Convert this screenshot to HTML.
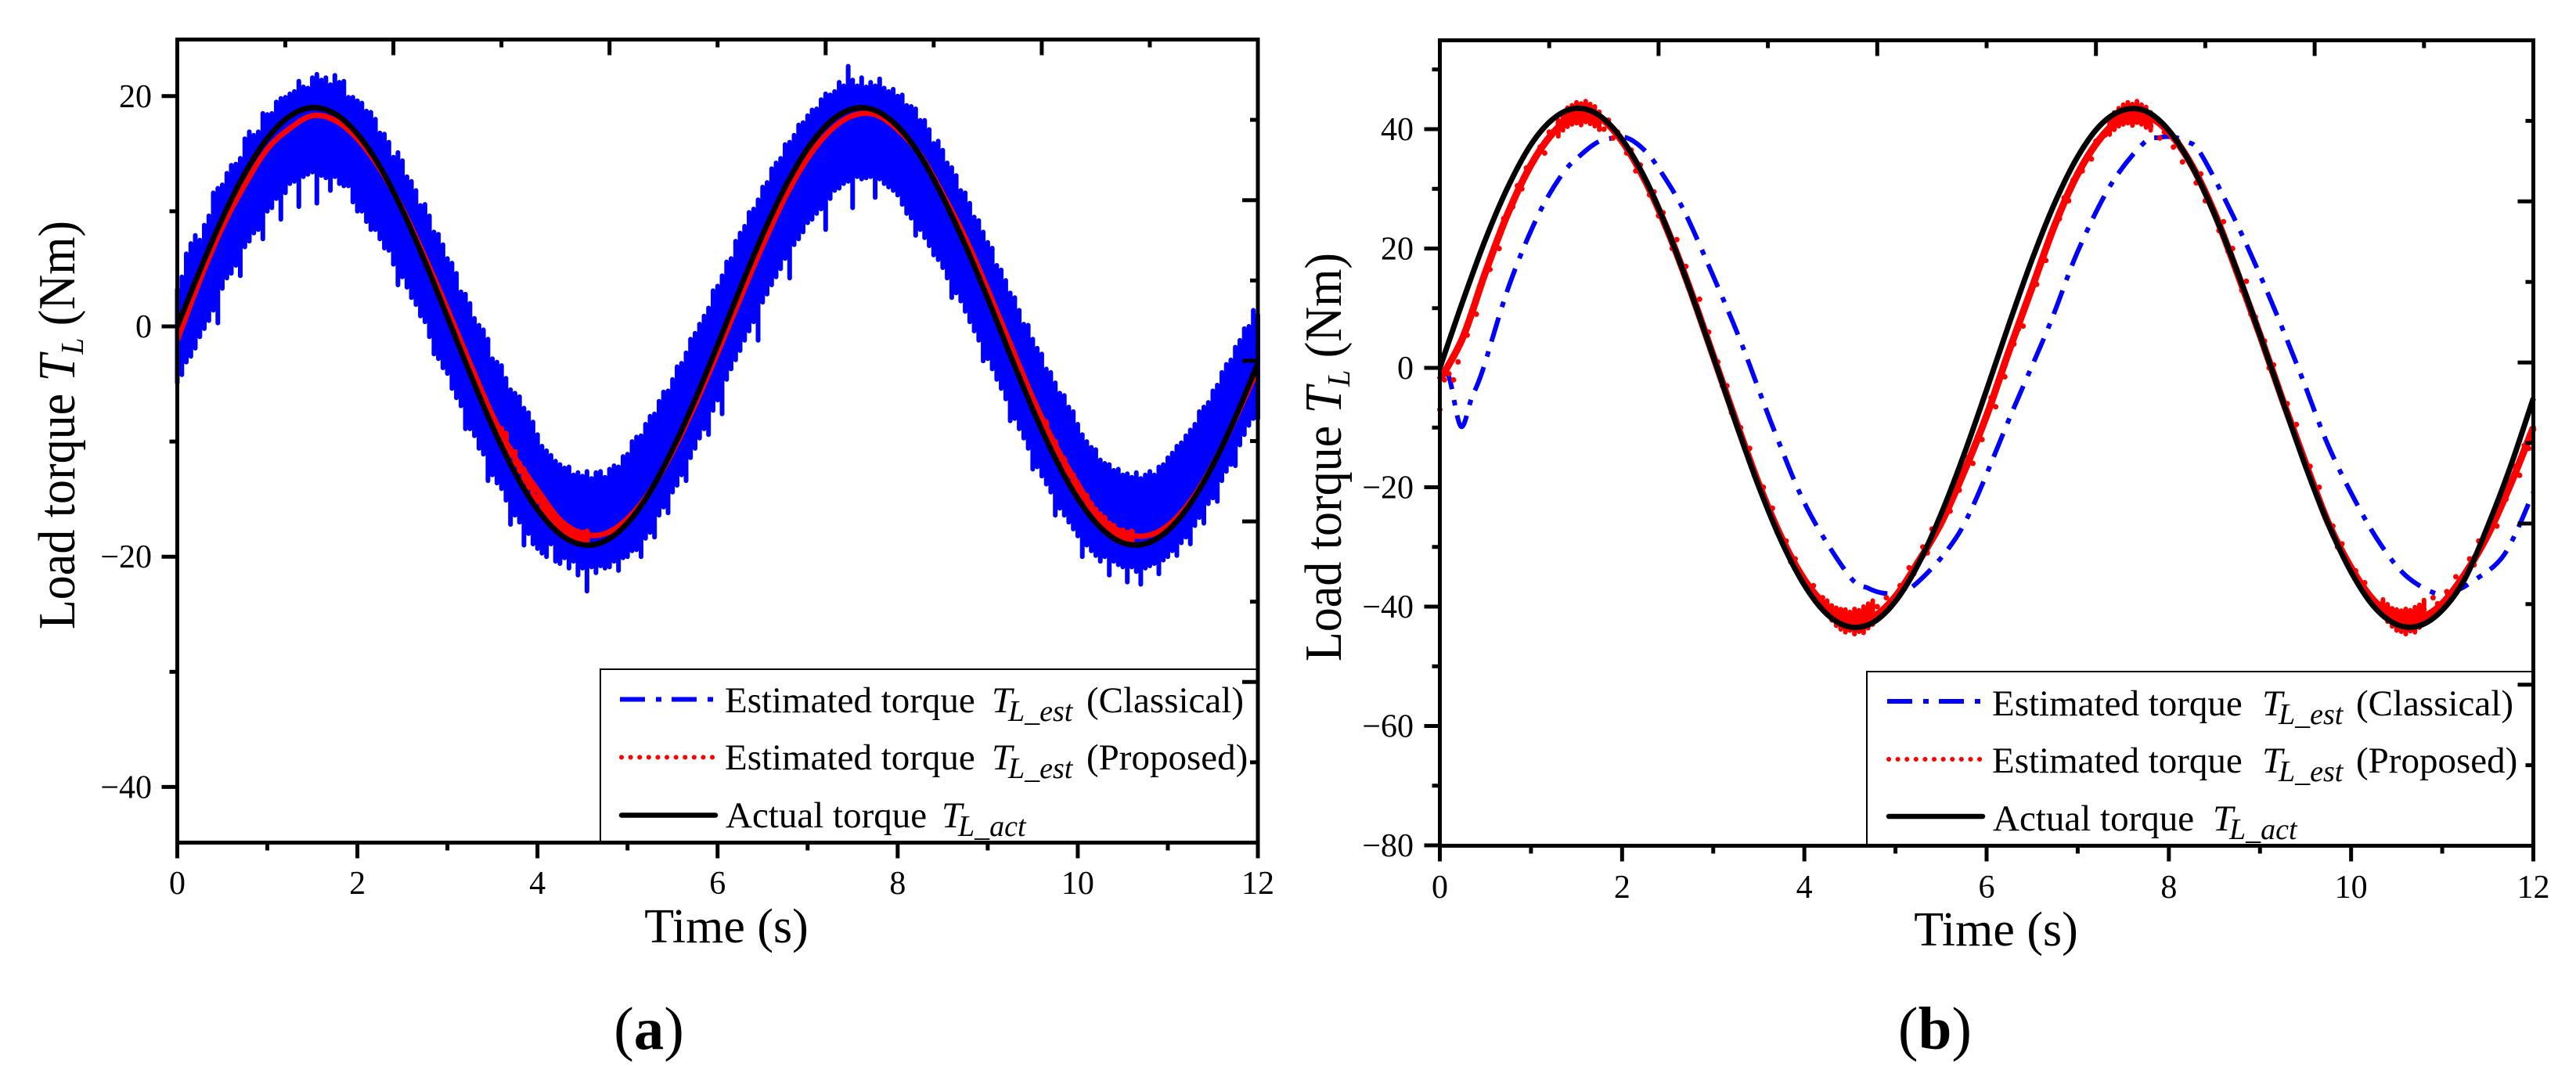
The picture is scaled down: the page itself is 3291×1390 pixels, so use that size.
<!DOCTYPE html>
<html lang="en">
<head>
<meta charset="utf-8">
<title>Load torque estimation comparison</title>
<style>
html,body{margin:0;padding:0;background:#fff}
svg{display:block}
text{font-family:"Liberation Serif","Times New Roman",serif;fill:#000}
</style>
</head>
<body>
<svg id="fig" xmlns="http://www.w3.org/2000/svg" width="3291" height="1390" viewBox="0 0 3291 1390">
  <g id="panelA"></g>
  <g id="panelB"></g>

  <text x="928" y="1204" font-size="62" text-anchor="middle">Time (s)</text>
  <text transform="translate(95 543) rotate(-90) scale(1 1.08)" font-size="62" text-anchor="middle">Load torque <tspan font-style="italic">T</tspan><tspan font-style="italic" font-size="38" dy="10">L</tspan><tspan dy="-10"> (Nm)</tspan></text>
  <text x="829" y="1340" font-size="77" text-anchor="middle">(<tspan font-weight="bold">a</tspan>)</text>

  <text x="2550" y="1208" font-size="62" text-anchor="middle">Time (s)</text>
  <text transform="translate(1713 584) rotate(-90) scale(1 1.08)" font-size="62" text-anchor="middle">Load torque <tspan font-style="italic">T</tspan><tspan font-style="italic" font-size="38" dy="10">L</tspan><tspan dy="-10"> (Nm)</tspan></text>
  <text x="2472" y="1340" font-size="77" text-anchor="middle">(<tspan font-weight="bold">b</tspan>)</text>

  <g>
    <rect x="767" y="855" width="840" height="222" fill="#fff" stroke="#000" stroke-width="2"/>
    <line x1="792" y1="893.5" x2="912" y2="893.5" stroke="#0000ff" stroke-width="6" stroke-dasharray="32 14 7 13"/>
    <text y="910" font-size="47"><tspan x="926">Estimated torque</tspan><tspan x="1267" font-style="italic">T</tspan><tspan x="1288" dy="11" font-style="italic" font-size="38">L_est</tspan><tspan x="1388" dy="-11">(Classical)</tspan></text>
    <line x1="794" y1="967.5" x2="912" y2="967.5" stroke="#ff0000" stroke-width="6" stroke-linecap="round" stroke-dasharray="0.1 11.5"/>
    <text y="983" font-size="47"><tspan x="926">Estimated torque</tspan><tspan x="1267" font-style="italic">T</tspan><tspan x="1288" dy="11" font-style="italic" font-size="38">L_est</tspan><tspan x="1388" dy="-11">(Proposed)</tspan></text>
    <line x1="794" y1="1041.5" x2="914" y2="1041.5" stroke="#000" stroke-width="6.5" stroke-linecap="round"/>
    <text y="1057" font-size="47"><tspan x="927">Actual torque</tspan><tspan x="1203" font-style="italic">T</tspan><tspan x="1224" dy="11" font-style="italic" font-size="38">L_act</tspan></text>
  </g>

  <g>
    <rect x="2385" y="858" width="851" height="222" fill="#fff" stroke="#000" stroke-width="2"/>
    <line x1="2411" y1="896" x2="2531" y2="896" stroke="#0000ff" stroke-width="6" stroke-dasharray="32 14 7 13"/>
    <text y="914" font-size="47"><tspan x="2545">Estimated torque</tspan><tspan x="2890" font-style="italic">T</tspan><tspan x="2911" dy="11" font-style="italic" font-size="38">L_est</tspan><tspan x="3010" dy="-11">(Classical)</tspan></text>
    <line x1="2413" y1="970" x2="2531" y2="970" stroke="#ff0000" stroke-width="6" stroke-linecap="round" stroke-dasharray="0.1 11.5"/>
    <text y="987" font-size="47"><tspan x="2545">Estimated torque</tspan><tspan x="2890" font-style="italic">T</tspan><tspan x="2911" dy="11" font-style="italic" font-size="38">L_est</tspan><tspan x="3010" dy="-11">(Proposed)</tspan></text>
    <line x1="2413" y1="1043" x2="2533" y2="1043" stroke="#000" stroke-width="6.5" stroke-linecap="round"/>
    <text y="1061" font-size="47"><tspan x="2546">Actual torque</tspan><tspan x="2827" font-style="italic">T</tspan><tspan x="2848" dy="11" font-style="italic" font-size="38">L_act</tspan></text>
  </g>

  <g id="framesOnTop"></g>
</svg>

<script>
// ---------- shared sampling ----------
const knotStep = 0.25;          // seconds between samples in the knot series
const noiseStep = 0.05;         // seconds between samples in the noisy series

// ---------- panel (a) data, Nm ----------
const aActual = [0,4.85,9.38,13.29,16.32,18.26,19.0,18.47,16.71,13.87,10.08,5.63,.81,-4.06,-8.68,-12.71,-15.91,-18.03,-18.96,-18.64,-17.08,-14.36,-10.68,-6.36,-1.62,3.27,7.96,12.1,15.45,17.77,18.89,18.76,17.37,14.83,11.25,7.07,2.42,-2.46,-7.19,-11.45,-14.94,-17.46,-18.8,-18.88,-17.73,-15.4,-12.05,-7.89,-3.22];
const aProposed = [-1.2,4.0,8.6,12.3,15.4,17.2,18.3,17.9,16.3,13.7,10.2,6.0,1.5,-3.2,-7.7,-11.4,-14.2,-16.8,-18.0,-18.0,-16.7,-14.3,-10.9,-6.8,-2.3,2.4,7.0,11.2,14.6,17.0,18.3,18.4,17.1,14.9,11.5,7.7,3.2,-1.5,-6.2,-10.3,-13.7,-16.6,-17.9,-18.2,-17.3,-15.2,-12.0,-8.0,-3.7];
const aProposedSpreadTimes = [3.6,3.65,3.7,3.75,3.8,3.85,3.9,3.95,4,4.05,4.1,4.15,4.2,4.25,4.3,4.35,4.4,4.45,4.5,4.55,9.65,9.7,9.75,9.8,9.85,9.9,9.95,10,10.05,10.1,10.15,10.2,10.25,10.3,10.35,10.4,10.45,10.5,10.55,10.6];
const aProposedSpreadHigh = [-8.9,-9.3,-10.6,-10.9,-11.9,-12.4,-13.3,-13.7,-14.8,-15.1,-15.6,-16.3,-16.6,-17,-17.3,-17.4,-17.7,-17.8,-17.9,-17.8,-8.3,-9.5,-10,-11,-11.5,-12.4,-12.9,-13.6,-14.4,-14.7,-15.4,-15.9,-16.3,-16.6,-17.1,-17.3,-17.7,-17.7,-17.9,-17.8];
const aProposedSpreadLow = [-9.7,-10.6,-11.2,-12,-12.6,-13.5,-14,-14.9,-15.2,-16,-16.5,-16.9,-17.4,-17.6,-18,-18.3,-18.5,-18.5,-18.7,-18.7,-9.4,-10.2,-11,-11.6,-12.5,-13,-13.9,-14.4,-15,-15.7,-16.1,-16.6,-17.1,-17.4,-17.7,-18,-18.3,-18.5,-18.5,-18.8];
const aClassicalHigh = [
3.2,4.3,6.3,7.2,7.9,7.5,8.8,9.6,11.6,12,12.3,13.3,14,14.1,14.6,16.3,16.9,16.6,16.9,18.5,
18.4,18.5,19.5,19.8,19.9,20.2,20.4,21.3,20.8,20.7,21.6,21.9,21.4,21.6,21,21.8,21.2,21.3,19.9,19.9,
19.6,19.4,18.7,18.6,18,16.8,16.7,16,14.7,15.1,14.4,13,12.6,11.8,10.5,10.6,9.6,8.2,8,7.1,
5.9,5.5,4.6,3,2.8,2,.7,.1,-.3,-1.1,-2.8,-3.1,-3.4,-4.5,-5.5,-5.8,-6.1,-7.1,-7.5,-8.3,
-9.4,-10.4,-10.8,-11.2,-11.7,-12,-12.3,-12.2,-12.9,-12.7,-13,-12.6,-13.2,-12.7,-12.6,-13.1,-12.4,-12.1,-12.2,-11.3,
-11.1,-10,-9.6,-9.5,-8.5,-7.8,-7.6,-6.5,-5.7,-5.6,-4.6,-3.5,-3.2,-2.3,-1.1,-.6,.2,.9,1.6,3.1,
3.5,4.4,5.6,5.9,7.4,8.1,8.7,9.9,10.2,11,12.1,12.5,13.7,14.2,14.6,15.8,16,16.6,17.5,17.7,
18.3,18.8,18.9,19.7,20.2,20.1,20.4,21.2,20.9,22.6,21.4,20.9,21.6,20.8,21.2,20.9,21.5,20.7,20.4,20.6,
20,20.1,19.2,19.1,18.9,17.9,17.9,17.1,15.9,16.1,15.3,14.2,13.8,13.1,11.8,11.6,10.7,9.5,9.2,8.2,
7.3,6.8,5.3,4.9,4,2.9,2.5,1.4,.2,.1,-1.1,-1.9,-2.4,-3.7,-4,-4.9,-5.8,-6,-7,-7.4,
-8.5,-9.4,-10,-10.5,-10.7,-11.6,-11.9,-12,-12.5,-12.4,-12.9,-12.8,-13.1,-12.7,-13.2,-12.9,-12.6,-12.9,-12.2,-12,
-11.4,-11,-10.4,-10.1,-9.5,-9,-8.5,-7.4,-7,-6.6,-5.6,-5.1,-4,-3.3,-2.9,-1.8,-1.2,-.2,0,1.4,
1];
const aClassicalLow = [
-4.9,-4.2,-3.1,-2.6,-1.9,-.9,-.2,.5,1.4,.3,3.3,4.2,4.6,5.3,4.4,6.9,7.4,8.1,8.4,7.6,
10,10.3,11.1,9.3,11.6,12.4,12.6,10.4,13,13.2,13.4,10.7,13.1,12.9,11.8,13,12.4,12.2,12.2,10.8,
10,10,9.1,8.4,8.4,7.6,6.8,6.6,5.4,3.6,4.3,3.4,2.5,1.9,.9,.4,-.9,-2.4,-2.8,-3.6,
-4.1,-5.4,-6.2,-6.9,-8.9,-8.9,-9.5,-10.6,-11.1,-13.4,-12.9,-13.6,-14.1,-15.1,-17.2,-16.4,-17,-19,-18,-18.9,
-19.3,-19.7,-20,-18.9,-20.4,-20.6,-20.1,-21,-20.4,-21.6,-21,-23,-20.9,-21.4,-20.8,-21,-20.9,-20.4,-21.2,-20.1,
-20,-19.5,-19.4,-20,-18.4,-17.9,-18.3,-16.4,-15.7,-16.2,-14.4,-13.8,-12.9,-13.4,-11.4,-10.6,-9.7,-8.9,-9.4,-7.3,
-6.4,-7.6,-4.6,-3.7,-2.9,-2.1,-1.2,-.4,.4,-1.2,2.1,2.8,3.6,4.3,5,5.9,4.2,7.1,7.6,8.2,
9,9.3,9.8,10.2,8.4,11.1,11.8,12,12.4,12.6,10.3,13,12.8,12.9,13,11.2,12.8,12.4,12.1,11.8,
11.4,10.6,9.8,9.4,7.9,8.4,7.7,7,6.2,5.8,5.1,4.2,2.5,2.9,2.2,1.3,.4,-.4,-1.2,-3,
-2.8,-3.7,-4.6,-5.4,-6.3,-8.2,-8,-8.9,-9.7,-10.6,-12.4,-12.2,-13,-13.7,-14.4,-16.4,-15.8,-16.4,-17,-17.6,
-18.2,-20,-19,-19.5,-19.9,-20.4,-20,-21.6,-20.4,-20.7,-20.9,-22.2,-20.9,-21.3,-22.4,-21,-20.8,-20.6,-21.5,-20.3,
-20,-19.5,-19.9,-18.8,-18.3,-18.9,-17.3,-16.6,-17.1,-15.4,-14.9,-15.2,-13.4,-12.6,-12,-12.1,-10.3,-9.4,-8.6,-8,
-8];
const aXTicksMajor = [0,2,4,6,8,10,12];
const aXTicksMinor = [1,3,5,7,9,11];
const aYTicksMajor = [20,0,-20,-40];
const aYTicksMinor = [10,-10,-30];
const aYLabels = ["20","0","\u221220","\u221240"];

// ---------- panel (b) data, Nm ----------
const bActual = [0,11.1,21.5,30.4,37.4,41.8,43.5,42.3,38.3,31.8,23.1,12.9,1.9,-9.3,-19.9,-29.1,-36.4,-41.3,-43.4,-42.7,-39.1,-32.9,-24.5,-14.6,-3.7,7.5,18.2,27.7,35.4,40.7,43.2,43.0,39.8,33.9,25.8,16.2,5.5,-5.6,-16.5,-26.2,-34.2,-40,-43,-43.2,-40.6,-35.3,-26.5,-16.5,-5.1];
const bProposed = [-2,5,16,26,34,39.5,42.5,42,38,31.5,23,13,2,-9,-19.5,-28.5,-35.5,-40,-42.3,-41.8,-38.3,-32.5,-26,-17.5,-8,3,13.5,24,32.5,38.5,42,42.3,39.5,34,26,16,5.5,-5.5,-16,-26,-33.5,-39,-41.8,-42,-39.5,-34.5,-28,-19.5,-10];
const bProposedDots = [
-7,-2,-1,-2,1,5,5.5,9.5,9,13.5,16,16.5,20.5,20,25,26,27,30.5,30,33.5,
34,35.5,37,36,39.5,39.5,41,40.5,43,41.5,42.5,43.5,41.5,43.5,41,42,40,41.5,38.5,39.5,
38,36,36.5,33,34,31.5,29,29.5,25.5,26,23,20,21.5,17,17,13,11,11.5,6.5,6,
2,1,-3,-3,-7.5,-9,-10,-13.5,-13.5,-18,-19.5,-20,-23.5,-23.5,-27.5,-28.5,-29,-32.5,-32,-35,
-35.5,-37.5,-36.5,-39.5,-38.5,-40,-40.5,-42,-40.5,-42.8,-42.3,-43,-41,-43,-41,-41.8,-40,-41.5,-38.5,-39.5,
-38.3,-36.5,-37,-33.5,-34.5,-32.5,-30,-31,-27,-27.5,-26,-23,-24,-20,-20.5,-17.5,-15,-16,-11.5,-12,
-8,-5,-6.5,-1,-1.5,3,4,6.5,7,11.5,13.5,14,17.5,18,22.5,24,25,28.5,28,31.5,
32.5,33,35.5,35,38,38.5,39,41.5,40,42.5,42,43.5,41,43.5,41,42.3,40.5,41.5,38.5,39.5,
39.5,37,38,34.5,35.5,34,31,32.5,28,28,26,23,24.5,19.5,20,16,13,14.5,9,8.5,
5.5,4.5,0,.5,-3.5,-5.5,-6,-9.5,-9.5,-14,-16,-16.5,-20,-20,-24.5,-26,-26.5,-30,-29.5,-32.5,
-33.5,-34,-36.5,-36,-39,-39,-39.5,-41.5,-40,-42.5,-41.8,-43,-41,-43,-41,-42,-40.5,-42,-38.5,-39.5,
-39.5,-37.5,-38,-35,-36,-34.5,-32,-33,-29,-29.5,-28,-25,-26.5,-21.5,-22,-19.5,-16.5,-18,-13,-13.5,
-10];
const bProposedSpreadTimes = [1.3,1.35,1.4,1.45,1.5,1.55,1.6,1.65,1.7,1.75,7.35,7.4,7.45,7.5,7.55,7.6,7.65,7.7,7.75,7.8,4.25,4.3,4.35,4.4,4.45,4.5,4.55,4.6,4.65,4.7,4.75,10.35,10.4,10.45,10.5,10.55,10.6,10.65,10.7,10.75,10.8];
const bProposedSpreadHigh = [41.5,42.6,43.6,44.0,44.5,44.3,44.7,44.2,43.8,42.9,41.8,42.8,43.5,44.1,44.5,44.2,44.7,44.1,43.7,42.8,-39,-39.8,-40.2,-40.7,-40.5,-40.9,-40.4,-40.6,-40,-39.5,-39,-38.8,-39.6,-40.3,-40.5,-40.7,-40.4,-40.6,-40.1,-39.7,-38.9];
const bProposedSpreadLow = [38.8,39.8,40.4,40.8,41.0,40.7,41.2,40.9,40.5,39.9,39.1,39.9,40.5,40.8,41.0,40.6,41.1,40.8,40.3,39.8,-41,-42.3,-43.2,-43.8,-44.3,-44,-44.6,-44.2,-44.4,-43.6,-43,-41.2,-42.5,-43.3,-44,-44.2,-44.6,-44.1,-44.3,-43.5,-42.6];
const bClassicalTimes = [0,.1,.23,.35,.47,.755,1.07,1.34,1.54,1.74,1.9,2.06,2.25,2.42,2.69,3.05,3.32,3.68,4.04,4.49,4.7,4.85,5.0,5.2,5.56,5.83,6.28,6.69,7.0,7.36,7.72,7.9,8.04,8.2,8.35,8.71,9.07,9.43,9.74,10.06,10.33,10.6,10.91,11.1,11.32,11.68,12];
const bClassicalValues = [-.5,-1.5,-9.8,-5,-.4,13.6,25.3,32.4,35.6,37.9,38.5,38.5,36.4,33,26,13.6,3.7,-10.9,-23.8,-34.8,-36.9,-37.7,-37.7,-36.5,-30.7,-23.8,-7.4,7.2,19.5,30.6,37.6,38.6,38.7,37.9,35.9,25.3,13.1,-.4,-12.7,-22.7,-29.7,-34.8,-37.7,-37.6,-35.9,-31.3,-20.9];
const bXTicksMajor = [0,2,4,6,8,10,12];
const bXTicksMinor = [1,3,5,7,9,11];
const bYTicksMajor = [40,20,0,-20,-40,-60,-80];
const bYTicksMinor = [50,30,10,-10,-30,-50,-70];
const bYLabels = ["40","20","0","\u221220","\u221240","\u221260","\u221280"];

// secondary (top/right) axis divisions, both run 0 to 10
const secondaryMajor = [0,2,4,6,8,10];
const secondaryMinor = [1,3,5,7,9];

// ---------- helpers ----------
const NS = "http://www.w3.org/2000/svg";
function linear(d0, d1, r0, r1) {
  return function (v) { return r0 + (v - d0) * (r1 - r0) / (d1 - d0); };
}
function node(parent, tag, attrs) {
  const el = document.createElementNS(NS, tag);
  for (const k in attrs) el.setAttribute(k, attrs[k]);
  parent.appendChild(el);
  return el;
}
function smoothPath(ts, vs, X, Y) {
  const p = ts.map(function (t, i) { return [X(t), Y(vs[i])]; });
  let d = "M" + p[0][0].toFixed(1) + " " + p[0][1].toFixed(1);
  for (let i = 0; i < p.length - 1; i++) {
    const p0 = p[Math.max(i - 1, 0)], p1 = p[i], p2 = p[i + 1], p3 = p[Math.min(i + 2, p.length - 1)];
    const c1x = p1[0] + (p2[0] - p0[0]) / 6, c1y = p1[1] + (p2[1] - p0[1]) / 6;
    const c2x = p2[0] - (p3[0] - p1[0]) / 6, c2y = p2[1] - (p3[1] - p1[1]) / 6;
    d += "C" + c1x.toFixed(1) + " " + c1y.toFixed(1) + " " + c2x.toFixed(1) + " " + c2y.toFixed(1) + " " + p2[0].toFixed(1) + " " + p2[1].toFixed(1);
  }
  return d;
}
function knotTimes(series) {
  return series.map(function (_, i) { return i * knotStep; });
}
function noiseTimes(series) {
  return series.map(function (_, i) { return i * noiseStep; });
}
function stickPath(ts, hi, lo, X, Y) {
  let d = "";
  ts.forEach(function (t, i) {
    d += "M" + X(t).toFixed(1) + " " + Y(hi[i]).toFixed(1) + "V" + Y(lo[i]).toFixed(1);
  });
  return d;
}
function dotPath(ts, vs, X, Y) {
  let d = "";
  ts.forEach(function (t, i) {
    d += "M" + X(t).toFixed(1) + " " + Y(vs[i]).toFixed(1) + "h0.01";
  });
  return d;
}

function drawAxes(prefix, cfg, X, Y, frameParent) {
  const g = node(frameParent, "g", {});
  
  
  const box = node(g, "rect", { x: cfg.left, y: cfg.top, width: cfg.right - cfg.left, height: cfg.bottom - cfg.top, fill: "none", stroke: "#000", "stroke-width": 5 });
  
  

  cfg.xMajor.forEach(function (v) {
    const t = node(g, "line", { x1: X(v), x2: X(v), y1: cfg.bottom, y2: cfg.bottom + 20, stroke: "#000", "stroke-width": 5 });
    
    
    const l = node(g, "text", { x: X(v), y: cfg.xLabelY, "font-size": 42, "text-anchor": "middle" });
    
    
    l.textContent = String(v);
  });
  cfg.xMinor.forEach(function (v) {
    const t = node(g, "line", { x1: X(v), x2: X(v), y1: cfg.bottom, y2: cfg.bottom + 10, stroke: "#000", "stroke-width": 5 });
    
    
  });
  cfg.yMajor.forEach(function (v, i) {
    const t = node(g, "line", { x1: cfg.left - 20, x2: cfg.left, y1: Y(v), y2: Y(v), stroke: "#000", "stroke-width": 5 });
    
    
    const l = node(g, "text", { x: cfg.yLabelX, y: Y(v) + 14, "font-size": 42, "text-anchor": "end" });
    
    
    l.textContent = cfg.yLabels[i];
  });
  cfg.yMinor.forEach(function (v) {
    const t = node(g, "line", { x1: cfg.left - 10, x2: cfg.left, y1: Y(v), y2: Y(v), stroke: "#000", "stroke-width": 5 });
    
    
  });
  const topX = linear(0, 10, cfg.left, cfg.right);
  const rightY = linear(0, 10, cfg.bottom, cfg.top);
  secondaryMajor.forEach(function (v) {
    const a = node(g, "line", { x1: topX(v), x2: topX(v), y1: cfg.top, y2: cfg.top + 20, stroke: "#000", "stroke-width": 5 });
    
    
    const b = node(g, "line", { x1: cfg.right - 20, x2: cfg.right, y1: rightY(v), y2: rightY(v), stroke: "#000", "stroke-width": 5 });
    
    
  });
  secondaryMinor.forEach(function (v) {
    const a = node(g, "line", { x1: topX(v), x2: topX(v), y1: cfg.top, y2: cfg.top + 10, stroke: "#000", "stroke-width": 5 });
    
    
    const b = node(g, "line", { x1: cfg.right - 10, x2: cfg.right, y1: rightY(v), y2: rightY(v), stroke: "#000", "stroke-width": 5 });
    
    
  });
}

// ---------- panel (a) ----------
const panelA = document.getElementById("panelA");
const frames = document.getElementById("framesOnTop");
const aX = linear(0, 12, 226.5, 1607);
const aY = linear(0, 20, 417, 122.8);

const aBlue = node(panelA, "path", { d: stickPath(noiseTimes(aClassicalHigh), aClassicalHigh, aClassicalLow, aX, aY), fill: "none", stroke: "#0000ff", "stroke-width": 6, "stroke-linecap": "round" });


const aRed = node(panelA, "path", { d: smoothPath(knotTimes(aProposed), aProposed, aX, aY), fill: "none", stroke: "#ff0000", "stroke-width": 7 });


const aRedSpread = node(panelA, "path", { d: stickPath(aProposedSpreadTimes, aProposedSpreadHigh, aProposedSpreadLow, aX, aY), fill: "none", stroke: "#ff0000", "stroke-width": 7, "stroke-linecap": "round" });


const aBlack = node(panelA, "path", { d: smoothPath(knotTimes(aActual), aActual, aX, aY), fill: "none", stroke: "#000", "stroke-width": 7 });



drawAxes("panel-a", {
  left: 226.5, right: 1607, top: 50.5, bottom: 1076.5,
  xMajor: aXTicksMajor, xMinor: aXTicksMinor, yMajor: aYTicksMajor, yMinor: aYTicksMinor,
  yLabels: aYLabels, xLabelY: 1142, yLabelX: 194
}, aX, aY, frames);

// ---------- panel (b) ----------
const panelB = document.getElementById("panelB");
const bX = linear(0, 12, 1839.5, 3236.5);
const bY = linear(0, 20, 470, 317.5);

const bBlue = node(panelB, "path", { d: smoothPath(bClassicalTimes, bClassicalValues, bX, bY), fill: "none", stroke: "#0000ff", "stroke-width": 6, "stroke-dasharray": "32 14 7 13" });


const bRed = node(panelB, "path", { d: smoothPath(knotTimes(bProposed), bProposed, bX, bY), fill: "none", stroke: "#ff0000", "stroke-width": 9 });


const bRedDots = node(panelB, "path", { d: dotPath(noiseTimes(bProposedDots), bProposedDots, bX, bY), fill: "none", stroke: "#ff0000", "stroke-width": 7, "stroke-linecap": "round" });


const bRedSpread = node(panelB, "path", { d: stickPath(bProposedSpreadTimes, bProposedSpreadHigh, bProposedSpreadLow, bX, bY), fill: "none", stroke: "#ff0000", "stroke-width": 6, "stroke-linecap": "round" });


const bBlack = node(panelB, "path", { d: smoothPath(knotTimes(bActual), bActual, bX, bY), fill: "none", stroke: "#000", "stroke-width": 7 });



drawAxes("panel-b", {
  left: 1839.5, right: 3236.5, top: 51.5, bottom: 1080.5,
  xMajor: bXTicksMajor, xMinor: bXTicksMinor, yMajor: bYTicksMajor, yMinor: bYTicksMinor,
  yLabels: bYLabels, xLabelY: 1147, yLabelX: 1806
}, bX, bY, frames);
</script>
</body>
</html>
